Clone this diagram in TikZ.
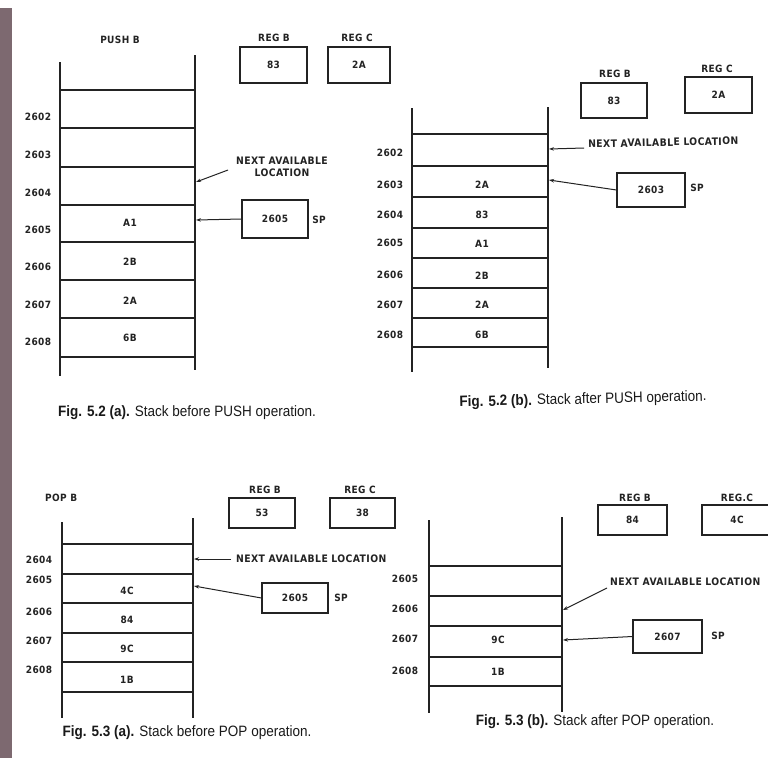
\documentclass[tikz,border=0pt]{standalone}
\usepackage{fontspec}
\usetikzlibrary{arrows.meta}
\newfontfamily\lblfam[LetterSpace=4]{DejaVu Sans Condensed}
\newfontfamily\capfam[FakeStretch=0.9]{Liberation Sans}
\newcommand{\lbl}{\lblfam\bfseries\fontsize{10}{12}\selectfont}
\newcommand{\lbll}{\lblfam\bfseries\fontsize{10.3}{12}\selectfont}
\newcommand{\capf}{\capfam\fontsize{15}{17}\selectfont}
\definecolor{ink}{RGB}{35,35,35}
\definecolor{stripe}{RGB}{125,105,112}
\begin{document}
\begin{tikzpicture}[x=1pt,y=-1pt,
  rail/.style={line width=1.1pt,draw=ink},
  rung/.style={line width=1.1pt,draw=ink},
  txt/.style={inner sep=0pt,text=ink,font=\lbl},
  longtxt/.style={inner sep=0pt,text=ink,font=\lbll},
  regbox/.style={draw=ink,line width=1.1pt,inner sep=0pt,text=ink,font=\lbl},
  arr/.style={-{Stealth[length=5pt,width=3.5pt]},line width=1pt,draw=ink},
  captext/.style={inner sep=0pt,text=black!90,font=\capf}]
\useasboundingbox (0,0) rectangle (768,758);
\fill[white] (0,0) rectangle (768,758);
\fill[stripe] (0,8) rectangle (12,758);

% ================= Fig 5.2 (a) =================
\draw[rail] (60,62) -- (60,376);
\draw[rail] (195,55) -- (195,370);
\foreach \y in {90,128,167,205,242,280,318,357} \draw[rung] (60,\y) -- (195,\y);
\node[txt] (pa) at (120,40) {PUSH B};
\foreach \n/\y in {2602/117,2603/155,2604/193,2605/230,2606/267,2607/305,2608/342}
  \node[txt] (a\n) at (38,\y) {\n};
\node[txt] (ac1) at (130,223) {A1};
\node[txt] (ac2) at (130,262) {2B};
\node[txt] (ac3) at (130,301) {2A};
\node[txt] (ac4) at (130,338) {6B};
\node[txt] (arbl) at (274,38) {REG B};
\node[regbox,minimum width=67pt,minimum height=36pt] (arb) at (273.5,65) {83};
\node[txt] (arcl) at (357,38) {REG C};
\node[regbox,minimum width=62pt,minimum height=36pt] (arc) at (359,65) {2A};
\node[longtxt,align=center] (anext) at (282,167) {NEXT AVAILABLE\\LOCATION};
\coordinate (anextend) at (228,170);
\coordinate (anexttip) at (196,182);
\draw[arr] (anextend) -- (anexttip);
\node[regbox,minimum width=66pt,minimum height=38pt] (asp) at (275,219) {2605};
\node[txt] (aspl) at (319,220) {SP};
\coordinate (asptip) at (196,220);
\draw[arr] (asp.west) -- (asptip);
\node[captext] (capa) at (187,413) {\textbf{Fig. 5.2 (a).} Stack before PUSH operation.};

% ================= Fig 5.2 (b) =================
\draw[rail] (412,108) -- (412,372);
\draw[rail] (548,107) -- (548,368);
\foreach \y in {134,166,197,228,258,288,318,347} \draw[rung] (412,\y) -- (548,\y);
\foreach \n/\y in {2602/153,2603/185,2604/215,2605/243,2606/275,2607/305,2608/335}
  \node[txt] (b\n) at (390,\y) {\n};
\node[txt] (bc1) at (482,185) {2A};
\node[txt] (bc2) at (482,215) {83};
\node[txt] (bc3) at (482,244) {A1};
\node[txt] (bc4) at (482,276) {2B};
\node[txt] (bc5) at (482,305) {2A};
\node[txt] (bc6) at (482,335) {6B};
\node[txt] (brbl) at (615,74) {REG B};
\node[regbox,minimum width=66pt,minimum height=35pt] (brb) at (614,100.5) {83};
\node[txt] (brcl) at (717,69) {REG C};
\node[regbox,minimum width=67pt,minimum height=36pt] (brc) at (718.5,95) {2A};
\node[longtxt,anchor=west,rotate=1.2] (bnext) at (588,144) {NEXT AVAILABLE LOCATION};
\coordinate (bnextend) at (584,148);
\coordinate (bnexttip) at (549,149);
\draw[arr] (bnextend) -- (bnexttip);
\node[regbox,minimum width=68pt,minimum height=34pt] (bsp) at (651,190) {2603};
\node[txt] (bspl) at (697,188) {SP};
\coordinate (bsptip) at (549,180);
\draw[arr] (bsp.west) -- (bsptip);
\node[captext,rotate=1.4] (capb) at (583,400) {\textbf{Fig. 5.2 (b).} Stack after PUSH operation.};

% ================= Fig 5.3 (a) =================
\draw[rail] (62,522) -- (62,718);
\draw[rail] (193,518) -- (193,718);
\foreach \y in {544,574,603,633,662,692} \draw[rung] (62,\y) -- (193,\y);
\node[txt,anchor=west] (pc) at (45,498) {POP B};
\foreach \n/\y in {2604/560,2605/580,2606/612,2607/641,2608/670}
  \node[txt] (c\n) at (39,\y) {\n};
\node[txt] (cc1) at (127,591) {4C};
\node[txt] (cc2) at (127,620) {84};
\node[txt] (cc3) at (127,649) {9C};
\node[txt] (cc4) at (127,680) {1B};
\node[txt] (crbl) at (265,490) {REG B};
\node[regbox,minimum width=66pt,minimum height=30pt] (crb) at (262,513) {53};
\node[txt] (crcl) at (360,490) {REG C};
\node[regbox,minimum width=65pt,minimum height=30pt] (crc) at (362.5,513) {38};
\node[longtxt,anchor=west] (cnext) at (236,559) {NEXT AVAILABLE LOCATION};
\coordinate (cnextend) at (231,559);
\coordinate (cnexttip) at (194,559);
\draw[arr] (cnextend) -- (cnexttip);
\node[regbox,minimum width=66pt,minimum height=30pt] (csp) at (295,598) {2605};
\node[txt] (cspl) at (341,598) {SP};
\coordinate (csptip) at (194,586);
\draw[arr] (csp.west) -- (csptip);
\node[captext] (capc) at (187,733) {\textbf{Fig. 5.3 (a).} Stack before POP operation.};

% ================= Fig 5.3 (b) =================
\draw[rail] (429,520) -- (429,713);
\draw[rail] (562,517) -- (562,712);
\foreach \y in {566,596,626,657,686} \draw[rung] (429,\y) -- (562,\y);
\foreach \n/\y in {2605/579,2606/609,2607/639,2608/671}
  \node[txt] (d\n) at (405,\y) {\n};
\node[txt] (dc1) at (498,640) {9C};
\node[txt] (dc2) at (498,672) {1B};
\node[txt] (drbl) at (635,498) {REG B};
\node[regbox,minimum width=69pt,minimum height=30pt] (drb) at (632.5,520) {84};
\node[txt] (drcl) at (737,498) {REG.C};
\node[regbox,minimum width=70pt,minimum height=30pt] (drc) at (737,520) {4C};
\node[longtxt,anchor=west] (dnext) at (610,582) {NEXT AVAILABLE LOCATION};
\coordinate (dnextend) at (607,588);
\coordinate (dnexttip) at (563,610);
\draw[arr] (dnextend) -- (dnexttip);
\node[regbox,minimum width=69pt,minimum height=33pt] (dsp) at (667.5,636.5) {2607};
\node[txt] (dspl) at (718,636) {SP};
\coordinate (dsptip) at (563,640);
\draw[arr] (dsp.west) -- (dsptip);
\node[captext] (capd) at (595,722) {\textbf{Fig. 5.3 (b).} Stack after POP operation.};
\end{tikzpicture}
\end{document}
